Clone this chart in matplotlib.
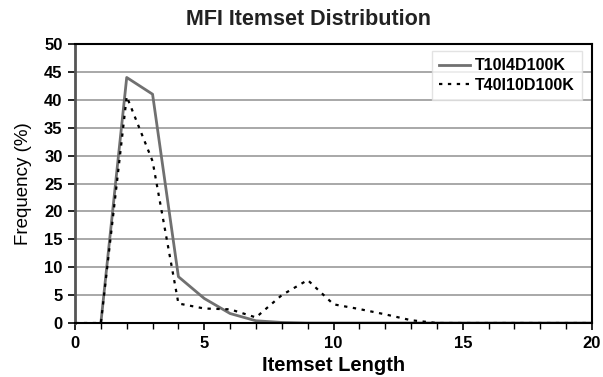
import numpy as np
import matplotlib.pyplot as plt
from matplotlib.ticker import MultipleLocator

plt.rcParams['font.family'] = ['Liberation Sans', 'DejaVu Sans']

# itemset length (x) and frequency (%) for each dataset
length = list(range(0, 21))
t10 = [0, 0, 44, 41, 8.3, 4.4, 1.7, 0.4, 0.1, 0, 0, 0, 0, 0, 0, 0, 0, 0, 0, 0, 0]
t40 = [0, 0, 40.6, 29.0, 3.5, 2.6, 2.45, 1.0, 5.0, 7.7, 3.35, 2.5, 1.55, 0.5, 0, 0, 0, 0, 0, 0, 0]

fig = plt.figure(figsize=(6.03, 3.77), dpi=100)
ax = fig.add_axes([0.1244, 0.1432, 0.8574, 0.7401])

ax.plot(length[1:], t10[1:], color='#707070', lw=2.0, label='T10I4D100K')
ax.plot(length, t40, color='black', lw=1.6, ls=(0, (1.5, 2.5)), label='T40I10D100K')

ax.set_xlim(0, 20)
ax.set_ylim(0, 50)
ax.xaxis.set_major_locator(MultipleLocator(5))
ax.xaxis.set_minor_locator(MultipleLocator(1))
ax.yaxis.set_major_locator(MultipleLocator(5))
ax.grid(axis='y', color='#9a9a9a', lw=1.2)
ax.set_axisbelow(True)

for s in ax.spines.values():
    s.set_color('black')
    s.set_linewidth(1.5)
ax.spines['left'].set_color('#555555')
ax.spines['left'].set_linewidth(2)

ax.tick_params(which='both', direction='out', color='black')
ax.tick_params(which='major', length=5, width=1.2, labelsize=12, pad=4)
ax.tick_params(which='minor', length=4, width=1.0)
for lab in ax.get_xticklabels() + ax.get_yticklabels():
    lab.set_fontweight('bold')

fig.text(0.511, 0.948, 'MFI Itemset Distribution', fontsize=15.5, fontweight='bold',
         ha='center', va='center', color='#222222')
ax.set_xlabel('Itemset Length', fontsize=14.5, fontweight='bold', labelpad=4)
ax.set_ylabel('Frequency (%)', fontsize=13.5, labelpad=9)

leg = ax.legend(loc='upper right', bbox_to_anchor=(0.98, 0.975),
                prop={'weight': 'bold', 'size': 11.5}, frameon=True, fancybox=False,
                handlelength=1.9, handletextpad=0.3, borderpad=0.45, labelspacing=0.3,
                borderaxespad=0)
leg.get_frame().set_edgecolor('#dddddd')
leg.get_frame().set_linewidth(1.0)

fig.savefig('out.png', dpi=100)
